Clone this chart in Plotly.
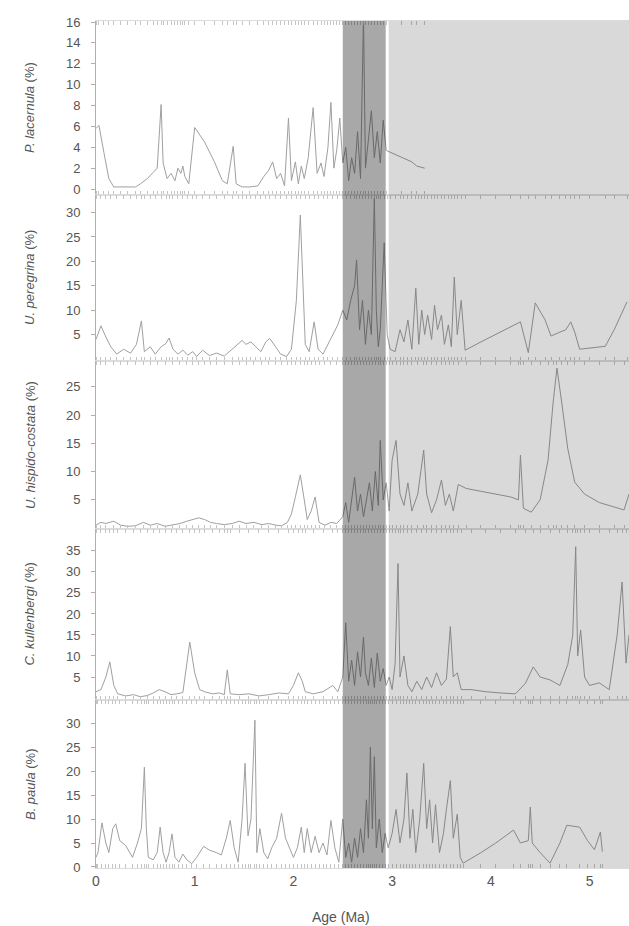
import plotly.graph_objects as go
from plotly.subplots import make_subplots

# ---------------- data ----------------
lac_age = [0.00,0.03,0.08,0.13,0.18,0.25,0.32,0.40,0.45,0.52,0.58,0.62,0.66,0.68,0.72,0.76,0.80,0.83,0.86,0.88,0.90,0.94,
           1.00,1.10,1.20,1.28,1.33,1.39,1.42,1.48,1.56,1.64,1.70,1.75,1.79,1.83,1.87,1.91,1.95,1.98,2.02,2.05,2.08,2.11,
           2.15,2.20,2.24,2.28,2.31,2.35,2.38,2.41,2.44,2.47,2.50,2.53,2.56,2.59,2.62,2.65,2.68,2.71,2.73,2.76,2.79,2.82,
           2.85,2.88,2.91,2.94,3.10,3.20,3.25,3.33]
lac_val = [5.8,6.1,3.5,1.0,0.2,0.2,0.2,0.2,0.5,1.0,1.6,2.0,8.1,2.5,1.0,1.5,0.8,2.0,1.5,2.2,1.2,0.5,
           5.9,4.5,2.6,0.8,0.5,4.1,0.5,0.2,0.2,0.3,1.2,1.8,2.6,1.0,1.5,0.3,6.8,0.8,2.6,0.5,2.2,1.0,
           3.0,7.8,1.5,2.5,1.2,4.0,8.3,2.0,3.8,6.8,2.5,4.0,0.8,3.0,1.5,5.5,1.0,16.5,2.0,5.0,7.5,3.0,
           5.5,2.5,6.6,3.7,3.0,2.6,2.2,2.0]

per_age = [0.00,0.05,0.10,0.15,0.21,0.28,0.35,0.41,0.46,0.49,0.55,0.60,0.66,0.71,0.74,0.78,0.83,0.88,0.93,0.98,
           1.02,1.08,1.15,1.22,1.30,1.38,1.44,1.48,1.52,1.57,1.62,1.67,1.72,1.76,1.82,1.87,1.93,1.98,2.03,2.07,
           2.12,2.16,2.21,2.25,2.30,2.35,2.40,2.45,2.50,2.54,2.58,2.62,2.64,2.67,2.70,2.73,2.76,2.79,2.82,2.84,
           2.86,2.88,2.92,2.95,2.98,3.03,3.08,3.12,3.16,3.20,3.24,3.27,3.30,3.33,3.36,3.40,3.43,3.46,3.50,3.53,
           3.57,3.60,3.63,3.66,3.70,3.74,3.90,4.05,4.20,4.30,4.38,4.45,4.55,4.61,4.70,4.76,4.81,4.85,4.90,5.00,
           5.16,5.25,5.38]
per_val = [4.0,6.8,4.5,2.5,1.0,2.0,1.2,3.0,7.8,1.5,2.5,1.0,2.5,3.2,4.3,2.0,1.0,1.8,0.8,1.5,
           0.5,1.8,0.7,1.2,0.6,2.0,3.2,3.8,3.0,3.5,2.5,1.5,3.5,4.2,2.5,1.0,0.5,2.0,12.0,29.5,
           3.0,1.5,7.6,2.0,1.0,3.0,5.0,7.0,10.0,8.0,12.0,15.0,20.3,6.0,12.0,3.0,10.0,5.0,33.0,10.0,
           2.5,6.0,23.8,5.0,2.0,1.5,6.0,3.5,8.0,2.0,14.5,3.0,10.0,5.0,9.0,4.0,11.0,6.0,9.0,3.0,
           7.0,2.5,16.8,5.0,12.0,1.8,3.5,5.0,6.5,7.6,1.3,11.5,8.0,4.7,5.5,6.0,7.6,5.5,2.0,2.2,
           2.6,6.0,11.7]

his_age = [0.00,0.05,0.10,0.18,0.25,0.32,0.40,0.48,0.55,0.62,0.70,0.78,0.85,0.92,0.98,1.04,1.10,1.16,1.22,1.30,
           1.38,1.45,1.52,1.60,1.68,1.75,1.82,1.88,1.94,1.98,2.02,2.07,2.11,2.14,2.18,2.22,2.26,2.32,2.38,2.44,
           2.50,2.53,2.56,2.59,2.62,2.65,2.68,2.71,2.74,2.77,2.80,2.83,2.86,2.88,2.91,2.94,2.97,3.00,3.04,3.08,
           3.12,3.16,3.20,3.26,3.32,3.35,3.40,3.45,3.50,3.54,3.58,3.62,3.67,3.75,3.90,4.05,4.20,4.28,4.30,4.33,
           4.41,4.50,4.58,4.63,4.67,4.72,4.78,4.85,4.95,5.10,5.25,5.35,5.40]
his_val = [0.5,1.0,0.8,1.2,0.5,0.3,0.4,1.0,0.5,0.8,0.3,0.5,0.8,1.2,1.5,1.8,1.5,1.0,0.8,0.6,
           0.8,1.2,0.8,1.0,0.6,0.8,0.5,0.4,1.0,2.5,5.5,9.4,5.0,1.5,3.0,5.5,1.0,0.5,1.0,0.8,
           2.0,4.5,1.0,5.0,9.0,3.0,6.0,2.0,5.0,8.0,3.0,10.0,4.0,15.5,5.0,8.0,3.0,12.0,15.5,6.0,
           4.0,8.0,3.0,6.0,13.8,6.0,2.7,5.0,8.5,4.0,6.0,3.0,7.7,7.0,6.5,6.0,5.5,5.0,12.9,3.5,
           2.8,5.0,12.0,22.0,28.3,22.0,14.0,8.1,6.0,4.5,3.7,3.2,6.0]

kul_age = [0.00,0.05,0.10,0.14,0.18,0.22,0.30,0.38,0.45,0.52,0.58,0.64,0.70,0.76,0.82,0.88,0.95,1.00,1.05,1.10,
           1.18,1.25,1.30,1.33,1.36,1.45,1.55,1.65,1.75,1.85,1.95,2.00,2.05,2.09,2.12,2.20,2.30,2.40,2.45,2.50,
           2.53,2.56,2.59,2.62,2.65,2.68,2.71,2.73,2.76,2.79,2.82,2.85,2.88,2.91,2.94,2.97,3.00,3.03,3.06,3.08,
           3.12,3.16,3.20,3.25,3.30,3.35,3.40,3.45,3.50,3.55,3.59,3.62,3.66,3.70,3.80,3.95,4.10,4.25,4.35,4.43,
           4.50,4.60,4.70,4.78,4.83,4.86,4.88,4.91,4.95,5.00,5.10,5.20,5.28,5.33,5.37,5.40]
kul_val = [1.5,2.0,5.0,8.6,3.0,1.0,0.5,0.8,0.3,0.6,1.2,2.0,1.5,0.8,1.0,1.3,13.3,6.0,2.0,1.5,
           1.0,1.2,0.8,6.7,1.0,0.8,1.0,0.5,0.8,1.2,1.0,3.0,6.0,4.0,1.5,1.0,1.5,3.0,1.5,5.0,
           17.9,4.0,9.0,3.0,11.0,5.0,14.5,6.0,3.0,9.5,2.5,10.7,4.0,7.0,3.0,5.0,2.0,8.0,32.0,5.0,
           10.0,3.0,1.5,4.0,2.0,5.0,2.5,6.0,3.0,4.5,17.0,5.0,6.0,2.0,2.0,1.5,1.2,1.0,3.5,7.4,
           5.0,4.3,3.0,8.0,15.0,36.0,10.0,16.2,5.0,3.0,3.6,2.0,15.0,27.6,8.3,15.0]

pau_age = [0.00,0.02,0.06,0.10,0.13,0.17,0.20,0.24,0.30,0.37,0.42,0.46,0.49,0.51,0.53,0.58,0.62,0.65,0.68,0.71,
           0.74,0.77,0.80,0.84,0.88,0.92,0.97,1.02,1.09,1.15,1.22,1.27,1.32,1.36,1.40,1.44,1.48,1.51,1.54,1.57,
           1.61,1.63,1.66,1.70,1.74,1.78,1.83,1.88,1.92,1.96,2.00,2.04,2.08,2.11,2.14,2.18,2.22,2.26,2.30,2.34,
           2.38,2.42,2.46,2.50,2.53,2.56,2.59,2.62,2.65,2.68,2.71,2.74,2.76,2.78,2.80,2.82,2.84,2.87,2.90,2.93,
           2.96,3.00,3.04,3.08,3.12,3.15,3.18,3.21,3.24,3.28,3.32,3.35,3.38,3.41,3.44,3.48,3.52,3.55,3.59,3.62,
           3.66,3.69,3.72,3.90,4.05,4.23,4.30,4.38,4.40,4.42,4.50,4.60,4.70,4.77,4.90,4.98,5.05,5.11,5.13]
pau_val = [2.0,3.0,9.2,5.0,3.0,8.0,9.0,5.5,4.5,2.0,5.0,8.0,20.8,8.0,2.0,1.5,3.0,8.3,3.0,1.0,
           3.0,6.9,2.0,1.0,2.7,1.5,0.7,2.0,4.3,3.5,3.0,2.5,6.0,9.7,4.0,1.0,10.0,21.6,6.5,10.0,
           30.6,3.0,8.0,3.0,1.7,4.0,6.0,11.2,6.0,4.0,2.0,4.0,8.3,3.0,8.0,3.0,6.4,3.0,5.0,2.5,
           9.7,4.0,1.0,10.0,2.0,5.0,1.0,6.0,2.0,8.0,3.0,14.0,6.0,25.0,8.0,23.0,4.0,10.0,3.0,7.0,
           4.0,7.0,12.0,5.0,10.0,19.6,6.0,12.0,3.0,10.0,21.6,8.0,14.0,5.0,13.0,3.0,7.0,12.0,18.0,6.0,
           11.0,2.0,0.8,3.0,5.0,7.7,5.0,5.5,12.5,5.0,3.0,0.8,5.0,8.7,8.3,5.5,3.6,7.3,3.2]

panel_titles = ["<i>P. lacernula</i> (%)", "<i>U. peregrina</i> (%)", "<i>U. hispido-costata</i> (%)",
                "<i>C. kullenbergi</i> (%)", "<i>B. paula</i> (%)"]
x_ticks = [0, 1, 2, 3, 4, 5]
y_ticks = [[0, 2, 4, 6, 8, 10, 12, 14, 16],
           [5, 10, 15, 20, 25, 30],
           [5, 10, 15, 20, 25],
           [5, 10, 15, 20, 25, 30, 35],
           [0, 5, 10, 15, 20, 25, 30]]
dark_band = [2.5, 2.935]
light_band = [2.965, 5.5]

# ---------------- figure ----------------
series = [(lac_age, lac_val), (per_age, per_val), (his_age, his_val), (kul_age, kul_val), (pau_age, pau_val)]
y_ranges = [[-0.57, 16.1], [-0.41, 33.6], [-0.18, 29.56], [-0.48, 40.2], [-0.21, 34.8]]
domains = [[0.7946, 1.0], [0.5986, 0.7946], [0.4002, 0.5986], [0.1983, 0.4002], [0.0, 0.1983]]

fig = make_subplots(rows=5, cols=1, shared_xaxes=True, vertical_spacing=0)
LINE = "#a0a0a0"
AX = "#b0b0b0"
RUG = "#c4c4c4"
for i, (a, v) in enumerate(series):
    r = i + 1
    fig.add_trace(go.Scatter(x=a, y=v, mode="lines", line=dict(color=LINE, width=1), showlegend=False,
                             hoverinfo="skip"), row=r, col=1)
    fig.update_yaxes(row=r, col=1, range=y_ranges[i], domain=domains[i], tickvals=y_ticks[i],
                     showline=True, linecolor=AX, linewidth=1, ticks="outside", ticklen=4, tickcolor=AX,
                     ticklabelstandoff=8, automargin=False,
                     showgrid=False, zeroline=False, tickfont=dict(size=13, color="#555555"))
    fig.update_xaxes(row=r, col=1, range=[0, 5.4], showline=True, mirror="ticks", linecolor="#dcdcdc",
                     linewidth=1, showgrid=False, zeroline=False, ticks="", tickvals=x_ticks,
                     automargin=False,
                     minor=dict(tickmode="array", tickvals=a, ticks="inside", ticklen=4, tickcolor=RUG,
                                tickwidth=1, showgrid=False),
                     showticklabels=(r == 5), tickfont=dict(size=14, color="#555555"))
    fig.add_annotation(text=panel_titles[i], textangle=-90, xref="paper", yref="paper",
                       x=-66 / 533, y=(domains[i][0] + domains[i][1]) / 2, xanchor="center", yanchor="middle",
                       showarrow=False, font=dict(size=13, color="#555555"))

fig.add_annotation(text="Age (Ma)", xref="paper", yref="paper", x=(341 - 96) / 533, y=-49 / 847,
                   xanchor="center", yanchor="middle", showarrow=False, font=dict(size=14, color="#555555"))

fig.add_shape(type="rect", xref="x5", yref="paper", x0=light_band[0], x1=light_band[1], y0=0, y1=1,
              fillcolor="rgba(0,0,0,0.15)", line=dict(width=0), layer="above")
fig.add_shape(type="rect", xref="x5", yref="paper", x0=dark_band[0], x1=dark_band[1], y0=0, y1=1,
              fillcolor="rgba(0,0,0,0.34)", line=dict(width=0), layer="above")

fig.update_layout(width=629, height=926, margin=dict(l=96, r=0, t=21, b=58, autoexpand=False),
                  plot_bgcolor="white", paper_bgcolor="white",
                  font=dict(family="Liberation Sans, Arial, sans-serif"))
fig.write_html("out.html", config={"displayModeBar": False},
               post_script="document.body.style.margin='0px';document.body.style.overflow='hidden';")
